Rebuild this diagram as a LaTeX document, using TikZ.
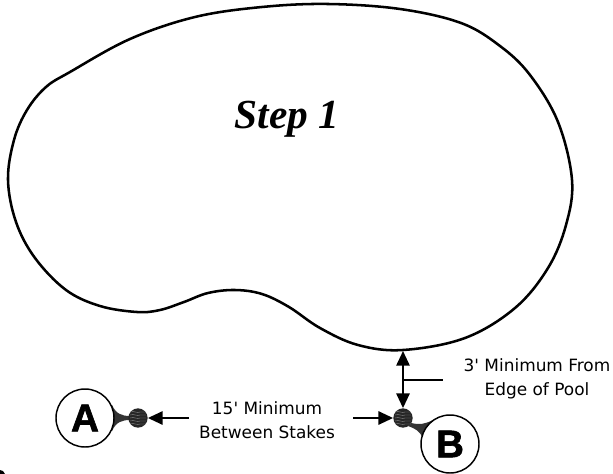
\documentclass[tikz,border=0pt]{standalone}
\usepackage{fontspec}
\setmainfont{DejaVu Sans}
\newfontfamily\stepfont{Liberation Serif}
\newfontfamily\letterfont[FakeBold=1.6]{Liberation Sans}
\usetikzlibrary{arrows.meta}
\tikzset{
  x=0.75pt,y=-0.75pt,
  poolline/.style={line width=1.9pt,line join=round},
  labelcircle/.style={circle,draw=black,line width=1.1pt,minimum size=43.5pt,inner sep=0pt,fill=white,font=\letterfont\bfseries\fontsize{29}{29}\selectfont},
  stake/.style={circle,fill=black!85,minimum size=14.5pt,inner sep=0pt},
  funnel/.style={fill=black!80},
  ripple/.style={draw=black!45,line width=.3pt},
  caption/.style={align=center,font=\fontsize{12.7}{18}\selectfont,inner sep=0pt},
  dim/.style={line width=1.3pt,-{Triangle[length=11pt,width=10pt]}},
  leader/.style={line width=1.1pt}
}
\begin{document}
\begin{tikzpicture}
\useasboundingbox (0,0) rectangle (613,474);
\fill[white] (0,0) rectangle (613,474);
\draw[poolline] plot[smooth cycle,tension=.6] coordinates {
 (70,72) (130,39) (195,17) (262,7) (328,4) (400,9) (461,23) (500,46) (530,75)
 (558,122) (572,180) (566,225) (548,268) (515,308) (465,338) (403,350)
 (358,345) (320,328) (289,307) (262,294) (235,290) (208,293) (184,302) (160,310) (137,312)
 (100,306) (66,290) (35,258) (16,222) (8,180) (14,140) (27,110) (46,87)};
\node[font=\stepfont\bfseries\itshape\fontsize{31}{31}\selectfont,anchor=base,inner sep=0pt] (title) at (287,128) {Step 1};
% funnels
\fill[funnel] (112,405) .. controls (116,414) and (122,416) .. (130,416) -- (130,420) .. controls (122,420) and (116,422) .. (112,431) -- cycle;
\fill[funnel] (433,420) .. controls (425,424) and (420,425) .. (411,423) -- (408,426) .. controls (416,429) and (420,431) .. (423,439) -- cycle;
\node[labelcircle] (A) at (85,418) {A};
\node[labelcircle] (B) at (450,444) {B};
\node[stake] (sa) at (138,418) {};
\node[stake] (sb) at (403,418) {};
\foreach \s in {sa,sb}{
  \begin{scope}[shift={(\s)}]
  \foreach \d in {-6,-3,0,3,6}
    \draw[ripple] (-8,\d) .. controls (-4,\d-1.5) and (-1,\d+1.5) .. (2,\d) .. controls (4,\d-1) and (6,\d+1) .. (8,\d);
  \end{scope}
}
% dimensions
\coordinate (ea) at (189,418);
\coordinate (eb) at (353,418);
\coordinate (poolbottom) at (403,351);
\coordinate (mid) at (403,380);
\coordinate (lead) at (443,380);
\draw[dim] (ea) -- (sa);
\draw[dim] (eb) -- (sb);
\draw[dim] (mid) -- (poolbottom);
\draw[dim] (mid) -- (sb);
\draw[leader] (mid) -- (lead);
\node[caption] (c1) at (267,420) {15\textquotesingle{} Minimum\\Between Stakes};
\node[caption] (c2) at (537,379) {3\textquotesingle{} Minimum From\\Edge of Pool};
\fill[black] (0,470) -- (3,471) -- (5,474) -- (0,474) -- cycle;
\end{tikzpicture}
\end{document}
